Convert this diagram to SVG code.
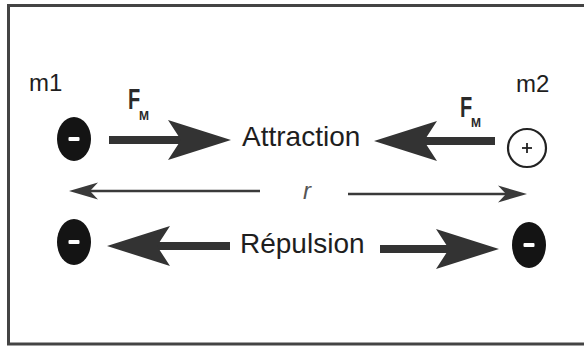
<svg xmlns="http://www.w3.org/2000/svg" width="584" height="347" viewBox="0 0 584 347">
  <defs>
    <style>
      .lbl { font-family: "Liberation Sans", Arial, sans-serif; fill: #1e1e1e; }
      .big { font-size: 28px; }
      .mass { font-size: 24px; }
      .fb { font-family: "Liberation Sans", Arial, sans-serif; font-weight: bold; fill: #2a2a2a; }
      .electron { fill: #141414; }
      .minus { fill: #ffffff; }
      .fat { stroke: #333333; stroke-width: 8; fill: none; marker-end: url(#fatHead); }
      .thin { stroke: #3a3a3a; stroke-width: 2.5; fill: none; marker-end: url(#thinHead); }
    </style>
    <marker id="fatHead" markerUnits="userSpaceOnUse" viewBox="-14 -21 66 42" markerWidth="66" markerHeight="42" refX="0" refY="0" orient="auto">
      <path d="M50,0 L-13,-20 L0,0 L-13,20 Z" fill="#333333"/>
    </marker>
    <marker id="thinHead" markerUnits="userSpaceOnUse" viewBox="-9 -10 31 20" markerWidth="31" markerHeight="20" refX="0" refY="0" orient="auto">
      <path d="M21,0 L-8,-8.5 L0,0 L-8,8.5 Z" fill="#3a3a3a"/>
    </marker>
  </defs>

  <rect x="0" y="0" width="584" height="347" fill="#ffffff"/>
  <rect x="8.5" y="5.5" width="600" height="338.5" fill="none" stroke="#444444" stroke-width="3"/>

  <g id="connectors">
    <line class="fat" x1="109" y1="140" x2="181" y2="140"/>
    <line class="fat" x1="495" y1="141" x2="424" y2="141"/>
    <line class="fat" x1="230" y1="246" x2="157" y2="246"/>
    <line class="fat" x1="380" y1="249" x2="449" y2="249"/>
    <line class="thin" x1="260" y1="191" x2="90" y2="191"/>
    <line class="thin" x1="348" y1="194" x2="506" y2="194"/>
  </g>

  <g id="m1-label"><text class="lbl mass" x="29" y="91">m1</text></g>
  <g id="m2-label"><text class="lbl mass" x="516" y="92">m2</text></g>

  <g id="fm-left">
    <text class="fb" font-size="20" transform="translate(128,109) scale(1,1.45)">F</text>
    <text class="fb" font-size="12" x="139" y="120">M</text>
  </g>
  <g id="fm-right">
    <text class="fb" font-size="20" transform="translate(460,117) scale(1,1.45)">F</text>
    <text class="fb" font-size="12" x="471" y="127">M</text>
  </g>

  <g id="electron-m1">
    <ellipse class="electron" cx="74" cy="139" rx="17" ry="22"/>
    <rect class="minus" x="68.5" y="137" width="11" height="4" rx="1"/>
  </g>
  <g id="proton-m2">
    <circle cx="527" cy="148" r="19" fill="#ffffff" stroke="#222222" stroke-width="2.2"/>
    <line x1="522" y1="148" x2="532" y2="148" stroke="#222222" stroke-width="1.8"/>
    <line x1="527" y1="143" x2="527" y2="153" stroke="#222222" stroke-width="1.8"/>
  </g>
  <g id="electron-left">
    <ellipse class="electron" cx="74" cy="242" rx="17" ry="23"/>
    <rect class="minus" x="68.5" y="240" width="11" height="4" rx="1"/>
  </g>
  <g id="electron-right">
    <ellipse class="electron" cx="529" cy="245" rx="17" ry="23"/>
    <rect class="minus" x="523.5" y="243" width="11" height="4" rx="1"/>
  </g>

  <g id="attraction-label"><text class="lbl big" x="242" y="146">Attraction</text></g>
  <g id="r-label"><text x="307" y="199" text-anchor="middle" font-family="'Liberation Sans', Arial, sans-serif" font-style="italic" font-size="24" fill="#555555">r</text></g>
  <g id="repulsion-label"><text class="lbl big" x="240" y="253">Répulsion</text></g>
</svg>
